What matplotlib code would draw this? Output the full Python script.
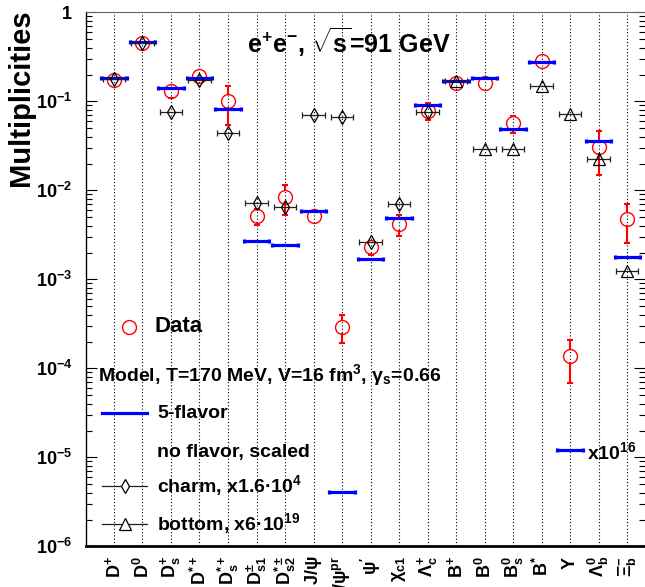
import numpy as np
import matplotlib
matplotlib.use('Agg')
import matplotlib.pyplot as plt
from matplotlib.lines import Line2D
from matplotlib.ticker import LogLocator, NullFormatter

# ---------------- data ----------------
categories = [r'$D^{+}$', r'$D^{0}$', r'$D_{s}^{+}$', r'$D^{*+}$', r'$D_{s}^{*+}$',
              r'$D_{s1}^{\pm}$', r'$D_{s2}^{*\pm}$', r'$J/\psi$', r'$J/\psi^{pr}$',
              r"$\psi'$", r'$\chi_{c1}$', r'$\Lambda_{c}^{+}$', r'$B^{+}$', r'$B^{0}$',
              r'$B_{s}^{0}$', r'$B^{*}$', r'$\Upsilon$', r'$\Lambda_{b}^{0}$', r'$\Xi_{b}^{-}$']

data_values = [0.1735, 0.449, 0.1315, 0.192, 0.1016, 0.00514, 0.00834, 0.00514, 0.000293,
               0.00232, 0.00415, 0.0784, 0.162, 0.162, 0.0566, 0.286, 0.000139, 0.0309, 0.00476]
data_err = [0.01, 0.02, 0.022, 0.01, 0.048, 0.0011, 0.003, 0.0005, 0.0001,
            0.00045, 0.0011, 0.017, 0.02, 0.02, 0.012, 0.02, 0.00007, 0.016, 0.0022]

flavor5_values = [0.181, 0.464, 0.141, 0.181, 0.0813, 0.00272, 0.00243, 0.00585, 4.1e-6,
                  0.0017, 0.00492, 0.0916, 0.169, 0.183, 0.0489, 0.274, 1.21e-5, 0.0361, 0.0018]

charm_index = list(range(0, 12))
charm_values = [0.177, 0.449, 0.0752, 0.1735, 0.0444, 0.00714, 0.00644, 0.0702, 0.0661,
                0.00264, 0.00702, 0.0759]

bottom_index = list(range(12, 19))
bottom_values = [0.168, 0.0289, 0.0289, 0.1486, 0.072, 0.0223, 0.00124]

ytick_values = [1, 1e-1, 1e-2, 1e-3, 1e-4, 1e-5, 1e-6]
ytick_labels = ['1', r'$10^{-1}$', r'$10^{-2}$', r'$10^{-3}$', r'$10^{-4}$', r'$10^{-5}$', r'$10^{-6}$']

# ---------------- style ----------------
plt.rcParams.update({
    'font.family': 'Liberation Sans',
    'font.weight': 'bold',
    'mathtext.fontset': 'custom',
    'mathtext.rm': 'Liberation Sans:bold',
    'mathtext.it': 'Liberation Sans:bold',
    'mathtext.bf': 'Liberation Sans:bold',
    'mathtext.sf': 'Liberation Sans:bold',
    'mathtext.default': 'regular',
})

W, H = 645, 587
fig = plt.figure(figsize=(W / 100, H / 100), dpi=100)
ax = fig.add_axes([86 / W, 1 - 546.3 / H, (645 - 86) / W, (546.3 - 12.3) / H])
x = np.arange(len(categories))
ax.set_yscale('log')
ax.set_xlim(-0.982, 18.63)
ax.set_ylim(1e-6, 1)

for xi in x:
    ax.axvline(xi, color='black', ls=(0, (1, 2)), lw=0.8, zorder=1)

BLUE = '#0000ff'
RED = '#ff0000'
DARK = '#222222'

# data circles
MS_DATA = 10
ax.plot(x, data_values, 'o', mfc='none', mec=RED, ms=MS_DATA, mew=1.0, zorder=3)

# data error bars, drawn outside the open marker
trans = ax.transData
inv = trans.inverted()
r_px = MS_DATA * 100 / 72 / 2
for xi, v, e in zip(x, data_values, data_err):
    px, py = trans.transform((xi, v))
    y_top_edge = inv.transform((px, py + r_px))[1]
    y_bot_edge = inv.transform((px, py - r_px))[1]
    hi = v + e
    lo = v - e
    if hi > y_top_edge:
        ax.plot([xi, xi], [y_top_edge, hi], color=RED, lw=1.5, zorder=3)
        ax.plot([xi], [hi], marker='_', color=RED, ms=4.5, mew=1.5, zorder=3)
    if lo < y_bot_edge:
        ax.plot([xi, xi], [lo, y_bot_edge], color=RED, lw=1.5, zorder=3)
        ax.plot([xi], [lo], marker='_', color=RED, ms=4.5, mew=1.5, zorder=3)

# 5-flavor model
ax.errorbar(x, flavor5_values, xerr=0.44, fmt='none', ecolor=BLUE, elinewidth=2.3,
            capsize=1.6, capthick=2.3, zorder=4)

# charm no-flavor scaled
ax.errorbar(np.array(charm_index), charm_values, xerr=0.4, fmt='d', mfc='none', mec='black',
            ms=7, mew=0.9, ecolor=DARK, elinewidth=0.9, capsize=2.5, capthick=0.9, zorder=5)
# bottom no-flavor scaled
ax.errorbar(np.array(bottom_index), bottom_values, xerr=0.4, fmt='^', mfc='none', mec='black',
            ms=8, mew=0.9, ecolor=DARK, elinewidth=0.9, capsize=2.5, capthick=0.9, zorder=5)

# axes styling
ax.spines['right'].set_visible(False)
ax.spines['top'].set_color('#666666')
ax.spines['top'].set_linewidth(0.8)
ax.spines['left'].set_linewidth(1.0)
ax.spines['bottom'].set_linewidth(2.0)

ax.set_yticks(ytick_values, ytick_labels, fontsize=13)
ax.yaxis.set_minor_locator(LogLocator(base=10, subs=np.arange(2, 10)))
ax.yaxis.set_minor_formatter(NullFormatter())
ax.tick_params(axis='y', which='both', direction='in', left=True, right=True, width=0.8)
ax.tick_params(axis='y', which='major', length=8, pad=10)
ax.tick_params(axis='y', which='minor', length=4.5)

ax.set_xticks(x, categories, rotation=90, fontsize=13)
ax.tick_params(axis='x', length=0, pad=7)

# y label
fig.text(21 / W, 1 - 9 / H, 'Multiplicities', rotation=90, ha='center', va='top',
         fontsize=21, fontweight='bold')

def P(xp, yp):
    return (xp / W, 1 - yp / H)

# title
fig.text(*P(247, 53), r'$e^{+}e^{-}$, $\sqrt{s}$=91 GeV', fontsize=18, ha='left', va='baseline')

# legend
ft = fig.transFigure
fig.add_artist(Line2D([P(129, 327)[0]], [P(129, 327)[1]], transform=ft, marker='o', mfc='none',
                      mec=RED, ms=MS_DATA, mew=1.0, ls='none'))
fig.text(*P(155, 327), 'Data', fontsize=16, ha='left', va='center')
fig.text(*P(98, 375), r'Model, T=170 MeV, V=16 fm$^{3}$, $\gamma_{s}$=0.66', fontsize=14,
         ha='left', va='center')
fig.add_artist(Line2D([P(102, 413)[0], P(147, 413)[0]], [P(102, 413)[1]] * 2, transform=ft,
                      color=BLUE, lw=2.3))
fig.text(*P(157, 413), '5-flavor', fontsize=14, ha='left', va='center')
fig.text(*P(157, 452), 'no flavor, scaled', fontsize=14, ha='left', va='center')
fig.add_artist(Line2D([P(102, 486)[0], P(147, 486)[0]], [P(102, 486)[1]] * 2, transform=ft,
                      color=DARK, lw=0.9))
fig.add_artist(Line2D([P(124.5, 486)[0]], [P(124.5, 486)[1]], transform=ft, marker='d',
                      mfc='white', mec='black', ms=7, mew=0.9, ls='none'))
fig.text(*P(157, 486), 'charm, x1.6\u00b710$^{4}$', fontsize=14, ha='left', va='center')
fig.add_artist(Line2D([P(102, 524)[0], P(147, 524)[0]], [P(102, 524)[1]] * 2, transform=ft,
                      color=DARK, lw=0.9))
fig.add_artist(Line2D([P(124.5, 524)[0]], [P(124.5, 524)[1]], transform=ft, marker='^',
                      mfc='white', mec='black', ms=8, mew=0.9, ls='none'))
fig.text(*P(157, 524), 'bottom, x6\u00b710$^{19}$', fontsize=14, ha='left', va='center')

fig.text(*P(587, 452), r'x10$^{16}$', fontsize=14, ha='left', va='center')

fig.savefig('out.png', dpi=100)
